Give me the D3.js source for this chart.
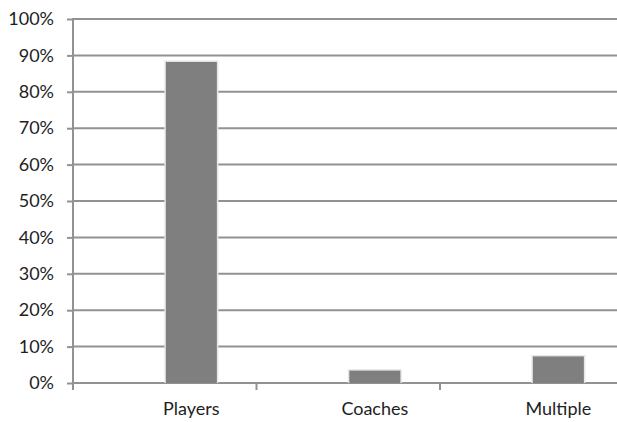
<!DOCTYPE html>
<html><head><meta charset="utf-8">
<script src="https://cdn.jsdelivr.net/npm/d3@7"></script>
<style>body{margin:0;background:#fff}svg{display:block}</style>
</head><body>
<svg id="c" width="617" height="422"></svg>
<script>
const categories = ["Players", "Coaches", "Multiple"];
const values = [0.882, 0.034, 0.073];
const yTicks = [0, 0.1, 0.2, 0.3, 0.4, 0.5, 0.6, 0.7, 0.8, 0.9, 1.0];

(function () {
const svg = d3.select("#c");
const mLeft = 73, mRight = 623.5, mTop = 19, mBottom = 383;
const x = d3.scaleBand().domain(categories).range([mLeft, mRight]).paddingInner(0).paddingOuter(0);
const y = d3.scaleLinear().domain([0, 1]).range([mBottom, mTop]);
const font = "Lato, 'Open Sans', sans-serif";
const gridColor = "#929292";

// gridlines
svg.append("g").selectAll("line").data(yTicks).join("line")
  .attr("x1", mLeft).attr("x2", 617)
  .attr("y1", d => y(d)).attr("y2", d => y(d))
  .attr("stroke", gridColor).attr("stroke-width", 2);

// y axis
const yAxis = d3.axisLeft(y).tickValues(yTicks).tickFormat(d3.format(".0%")).tickSize(6).tickPadding(13);
const gy = svg.append("g").attr("transform", `translate(${mLeft},0)`).call(yAxis);
gy.select(".domain").remove();
gy.selectAll(".tick line").attr("stroke", gridColor).attr("stroke-width", 2);
gy.selectAll(".tick text").attr("font-family", font).attr("font-size", 18).attr("fill", "#1e1e1e");
svg.append("line").attr("x1", mLeft).attr("x2", mLeft).attr("y1", mTop - 1).attr("y2", mBottom + 7)
  .attr("stroke", gridColor).attr("stroke-width", 2);

// category boundary ticks
const bw = x.bandwidth();
svg.append("g").selectAll("line").data(categories.slice(1)).join("line")
  .attr("x1", d => x(d)).attr("x2", d => x(d))
  .attr("y1", mBottom).attr("y2", mBottom + 7)
  .attr("stroke", gridColor).attr("stroke-width", 2);

const centerFrac = 0.645, barFrac = 0.278;
// bar shadows/edges
svg.append("g").selectAll("rect").data(values).join("rect")
  .attr("x", (d, i) => x(categories[i]) + bw * centerFrac - bw * barFrac / 2 - 1.5)
  .attr("width", bw * barFrac + 3)
  .attr("y", d => y(d) - 1.5)
  .attr("height", d => mBottom - y(d) + 1.5)
  .attr("fill", "#e6e6e6");
svg.append("g").selectAll("rect").data(values).join("rect")
  .attr("x", (d, i) => x(categories[i]) + bw * centerFrac - bw * barFrac / 2)
  .attr("width", bw * barFrac)
  .attr("y", d => y(d))
  .attr("height", d => mBottom - y(d))
  .attr("fill", "#7f7f7f");

// category labels
svg.append("g").selectAll("text").data(categories).join("text")
  .attr("x", d => x(d) + bw * centerFrac)
  .attr("y", 415)
  .attr("text-anchor", "middle")
  .attr("font-family", font).attr("font-size", 18).attr("fill", "#1e1e1e")
  .text(d => d);
})();
</script>
</body></html>
